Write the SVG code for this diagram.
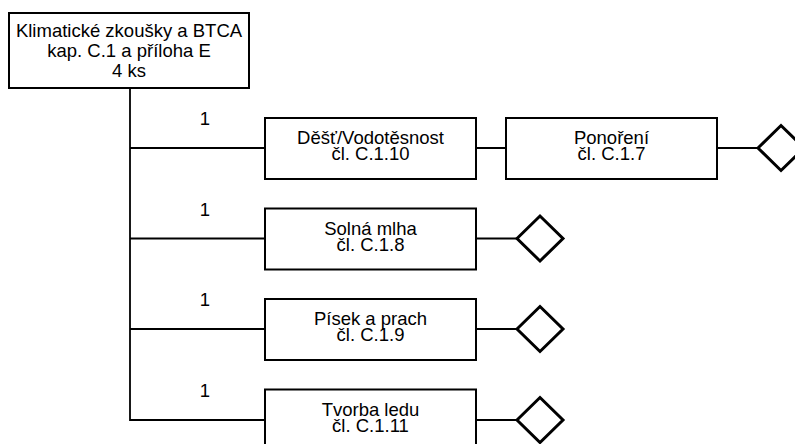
<svg xmlns="http://www.w3.org/2000/svg" width="795" height="444" viewBox="0 0 795 444">
<style>
.box{fill:#fff;stroke:#000;stroke-width:2}
.ln{fill:none;stroke:#000;stroke-width:1.8}
.dia{fill:#fff;stroke:#000;stroke-width:3}
text{font-family:"Liberation Sans",Arial,sans-serif;font-size:18.5px;fill:#000;text-anchor:middle}
</style>
<rect width="795" height="444" fill="#fff"/>
<g id="connectors">
<path class="ln" d="M130 88 V420 H265 M130 148 H265 M130 238.5 H265 M130 329 H265"/>
<path class="ln" d="M476 148 H506 M717 148 H758 M476 238.5 H517 M476 329 H517 M476 420 H517"/>
<text x="205" y="125">1</text>
<text x="205" y="215.5">1</text>
<text x="205" y="306">1</text>
<text x="205" y="396.5">1</text>
</g>
<g id="root">
<rect class="box" x="9" y="13" width="240" height="75"/>
<text x="129" y="37">Klimatické zkoušky a BTCA</text>
<text x="129" y="57">kap. C.1 a příloha E</text>
<text x="129" y="77">4 ks</text>
</g>
<g id="dest">
<rect class="box" x="265" y="118" width="211" height="61"/>
<text x="370.5" y="144">Děšť/Vodotěsnost</text>
<text x="370.5" y="160">čl. C.1.10</text>
</g>
<g id="ponoreni">
<rect class="box" x="506" y="118" width="211" height="61"/>
<text x="611.5" y="144">Ponoření</text>
<text x="611.5" y="160">čl. C.1.7</text>
</g>
<g id="d1"><polygon class="dia" points="758,148 781,125.5 804,148 781,170.5"/></g>
<g id="solna">
<rect class="box" x="265" y="208.5" width="211" height="61"/>
<text x="370.5" y="234.5">Solná mlha</text>
<text x="370.5" y="250.5">čl. C.1.8</text>
</g>
<g id="d2"><polygon class="dia" points="517,238.5 540,216 563,238.5 540,261"/></g>
<g id="pisek">
<rect class="box" x="265" y="299" width="211" height="61"/>
<text x="370.5" y="325">Písek a prach</text>
<text x="370.5" y="341">čl. C.1.9</text>
</g>
<g id="d3"><polygon class="dia" points="517,329 540,306.5 563,329 540,351.5"/></g>
<g id="led">
<rect class="box" x="265" y="389.5" width="211" height="61"/>
<text x="370.5" y="415.5">Tvorba ledu</text>
<text x="370.5" y="431.5">čl. C.1.11</text>
</g>
<g id="d4"><polygon class="dia" points="517,420 540,397.5 563,420 540,442.5"/></g>
</svg>
